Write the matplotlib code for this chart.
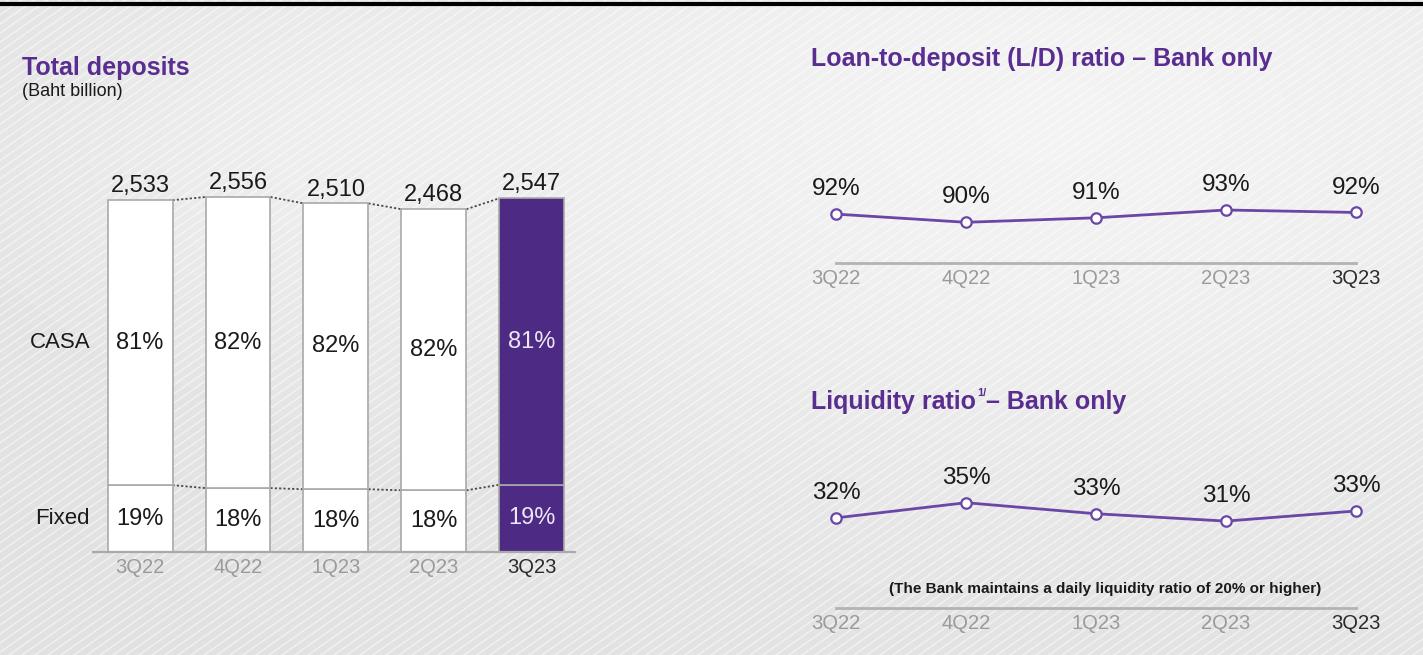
import numpy as np
import matplotlib
matplotlib.use("Agg")
import matplotlib.pyplot as plt
from matplotlib import font_manager

# ---------------- data ----------------
quarters = ["3Q22", "4Q22", "1Q23", "2Q23", "3Q23"]
total_deposits = [2533, 2556, 2510, 2468, 2547]
casa_pct = [81, 82, 82, 82, 81]
fixed_pct = [19, 18, 18, 18, 19]
ld_ratio = [91.6, 89.6, 90.7, 92.6, 92.0]
liquidity_ratio = [31.7, 35.0, 32.6, 31.0, 33.2]

# ---------------- style ----------------
W, H = 1423, 655
installed = {f.name for f in font_manager.fontManager.ttflist}
BASE = "Liberation Sans" if "Liberation Sans" in installed else "DejaVu Sans"
plt.rcParams["font.family"] = [BASE, "DejaVu Sans"]

PURPLE = "#4d2a84"
TITLE_PURPLE = "#5a2d91"
LINE_PURPLE = "#6a46a6"
GREY_TXT = "#9a9a9a"
DARK_TXT = "#2b2b2b"
NUM_FS = 17
CAT_FS = 14.5
TITLE_FS = 18

fig = plt.figure(figsize=(W / 100, H / 100), dpi=100)


def rect(x0, y0, x1, y1):
    return [x0 / W, 1 - y1 / H, (x1 - x0) / W, (y1 - y0) / H]


# ---------------- background ----------------
bg = fig.add_axes([0, 0, 1, 1], zorder=-10)
bg.set_xlim(0, W)
bg.set_ylim(H, 0)
bg.axis("off")
yy, xx = np.mgrid[0:H:4, 0:W:4]
grad = 0.88 + 0.07 * np.exp(-(((xx - 1050) / 650.0) ** 2 + ((yy - 120) / 380.0) ** 2))
grad += 0.03 * np.exp(-(((xx - 250) / 300.0) ** 2 + ((yy - 150) / 200.0) ** 2))
grad = np.clip(grad, 0, 1)
bg.imshow(grad, cmap="gray", vmin=0, vmax=1, extent=[0, W, H, 0], aspect="auto",
          interpolation="bilinear")
ang = np.deg2rad(35)
for c in np.arange(-1200, W + 200, 13):
    xs = np.array([c, c + H / np.tan(ang)])
    ys = np.array([H, 0])
    bg.plot(xs, ys, color="white", lw=1.1, alpha=0.5)
# top cut-off caption rule
bg.plot([0, W], [4, 4], color="black", lw=3)

# ---------------- left: total deposits ----------------
ppu = 355 / 2556.0
ax1 = fig.add_axes(rect(93, 150, 575, 552))
ax1.set_xlim(-0.48, 4.44)
ax1.set_ylim(0, 402 / ppu)
ax1.axis("off")
x = np.arange(len(quarters))
bw = 0.663
fixed_vals = [t * f / 100 for t, f in zip(total_deposits, fixed_pct)]
casa_vals = [t - f for t, f in zip(total_deposits, fixed_vals)]
for i in x:
    fc = PURPLE if i == len(x) - 1 else "white"
    ax1.bar(i, fixed_vals[i], width=bw, color=fc, edgecolor="#a9a9a9", lw=1.2, zorder=2)
    ax1.bar(i, casa_vals[i], bottom=fixed_vals[i], width=bw, color=fc,
            edgecolor="#a9a9a9", lw=1.2, zorder=2)
    tc = "#ece6f5" if i == len(x) - 1 else "#1a1a1a"
    ax1.text(i, fixed_vals[i] + casa_vals[i] / 2, f"{casa_pct[i]}%", ha="center",
             va="center", fontsize=NUM_FS, color=tc, zorder=3)
    ax1.text(i, fixed_vals[i] / 2, f"{fixed_pct[i]}%", ha="center", va="center",
             fontsize=NUM_FS, color=tc, zorder=3)
    ax1.annotate(f"{total_deposits[i]:,}", (i, total_deposits[i]), xytext=(0, 2),
                 textcoords="offset points", ha="center", va="bottom", fontsize=NUM_FS,
                 color="#1a1a1a")
    ax1.annotate(quarters[i], (i, 0), xytext=(0, -4), textcoords="offset points",
                 ha="center", va="top", fontsize=CAT_FS,
                 color=DARK_TXT if i == len(x) - 1 else GREY_TXT)
for i in range(len(x) - 1):
    ax1.plot([i + bw / 2, i + 1 - bw / 2], [total_deposits[i], total_deposits[i + 1]],
             ls=(0, (1.2, 1.2)), color="#4a4a4a", lw=1.3, zorder=1)
    ax1.plot([i + bw / 2, i + 1 - bw / 2], [fixed_vals[i], fixed_vals[i + 1]],
             ls=(0, (1.2, 1.2)), color="#4a4a4a", lw=1.3, zorder=1)
ax1.plot([-0.48, 4.44], [0, 0], color="#a9a9a9", lw=1.6, clip_on=False, zorder=3)
ax1.text(-0.51, fixed_vals[0] + casa_vals[0] / 2, "CASA", ha="right", va="center",
         fontsize=16, color="#1a1a1a", clip_on=False)
ax1.text(-0.51, fixed_vals[0] / 2, "Fixed", ha="right", va="center",
         fontsize=16, color="#1a1a1a", clip_on=False)

fig.text(22 / W, 1 - 68 / H, "Total deposits", fontsize=TITLE_FS, fontweight="bold",
         color=TITLE_PURPLE, va="center", ha="left")
fig.text(22 / W, 1 - 91 / H, "(Baht billion)", fontsize=13, color="#1a1a1a",
         va="center", ha="left")


# ---------------- right: line charts ----------------
def line_panel(top_px, base_px, values, ref_val, ref_px, ppu_l):
    ax = fig.add_axes(rect(797, top_px, 1395, base_px))
    ax.set_xlim(-0.3, 4.3)
    ylo = ref_val - (base_px - ref_px) / ppu_l
    yhi = ylo + (base_px - top_px) / ppu_l
    ax.set_ylim(ylo, yhi)
    ax.axis("off")
    ax.plot(x, values, color=LINE_PURPLE, lw=2, marker="o", ms=7.5, mfc="white",
            mec=LINE_PURPLE, mew=1.6, zorder=3, clip_on=False)
    for i, v in enumerate(values):
        ax.annotate(f"{round(v)}%", (i, v), xytext=(0, 10), textcoords="offset points",
                    ha="center", va="bottom", fontsize=17.5, color="#1a1a1a")
        ax.annotate(quarters[i], (i, ylo), xytext=(0, -4), textcoords="offset points",
                    ha="center", va="top", fontsize=CAT_FS,
                    color=DARK_TXT if i == len(values) - 1 else GREY_TXT,
                    annotation_clip=False)
    ax.plot([0, 4], [ylo, ylo], color="#b3b3b3", lw=2, clip_on=False)
    return ax, ylo


ax2, _ = line_panel(150, 263, ld_ratio, 92.6, 210.0, 4.1)
ax3, ylo3 = line_panel(460, 608, liquidity_ratio, 35.0, 502.7, 4.6)
fig.text(1105 / W, 1 - 589 / H,
         "(The Bank maintains a daily liquidity ratio of 20% or higher)",
         fontsize=11, fontweight="bold", color="#1a1a1a", ha="center", va="center")

fig.text(811 / W, 1 - 59 / H, "Loan-to-deposit (L/D) ratio \u2013 Bank only",
         fontsize=TITLE_FS, fontweight="bold", color=TITLE_PURPLE,
         va="center", ha="left")

# Liquidity title with superscript
renderer = fig.canvas.get_renderer()
t1 = fig.text(811 / W, 1 - 402 / H, "Liquidity ratio", fontsize=TITLE_FS,
              fontweight="bold", color=TITLE_PURPLE, va="center", ha="left")
bb = t1.get_window_extent(renderer)
t2 = fig.text(bb.x1 / W + 1 / W, 1 - 393 / H, "1/", fontsize=8, fontweight="bold",
              color=TITLE_PURPLE, va="center", ha="left")
bb2 = t2.get_window_extent(renderer)
fig.text(bb2.x1 / W, 1 - 402 / H, "\u2013 Bank only", fontsize=TITLE_FS,
         fontweight="bold", color=TITLE_PURPLE, va="center", ha="left")

fig.savefig("out.png", dpi=100)
